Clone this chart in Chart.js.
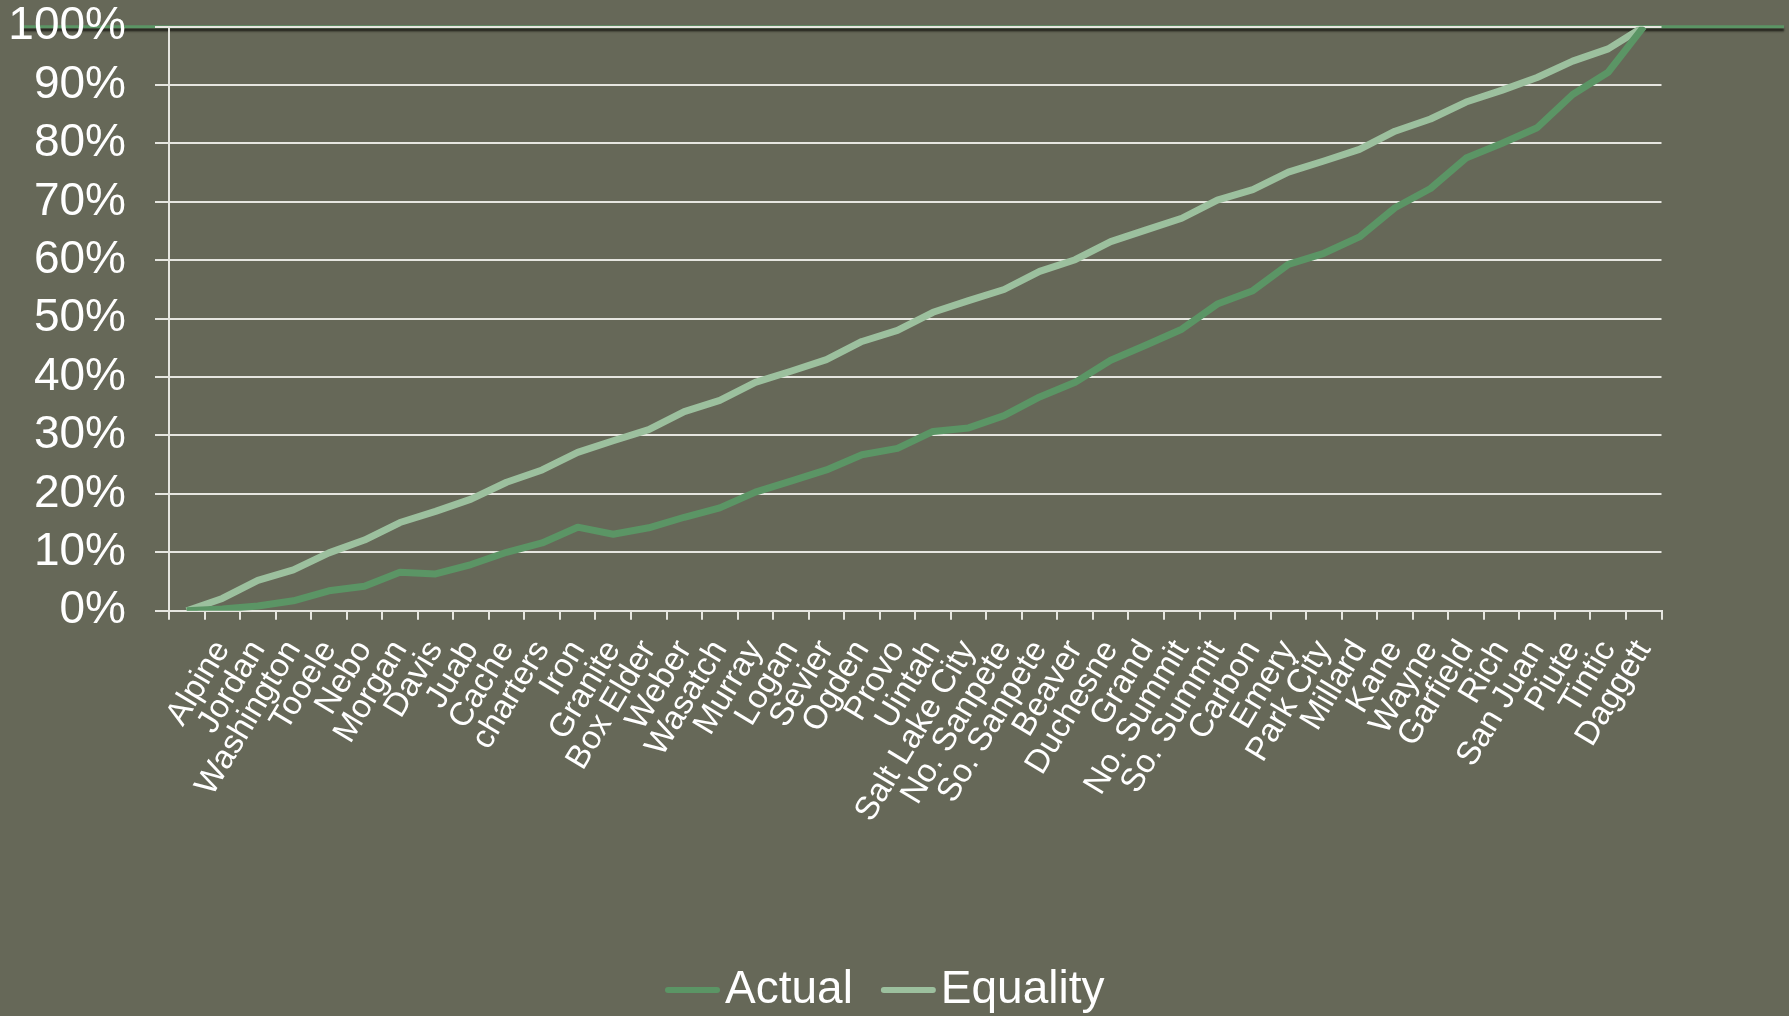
<!DOCTYPE html>
<html>
<head>
<meta charset="utf-8">
<script src="https://cdn.jsdelivr.net/npm/chart.js@4.4.1/dist/chart.umd.min.js"></script>
<style>
  html, body { margin: 0; padding: 0; background: #666858; }
  #quadro { width: 1789px; height: 1016px; }
</style>
</head>
<body>
<div id="quadro"><canvas id="grafico" width="1789" height="1016"></canvas></div>
<script>
// districts in order of cumulative share; the first slot is the origin
const distritos = ['', 'Alpine', 'Jordan', 'Washington', 'Tooele', 'Nebo', 'Morgan', 'Davis', 'Juab',
  'Cache', 'charters', 'Iron', 'Granite', 'Box Elder', 'Weber', 'Wasatch', 'Murray', 'Logan', 'Sevier',
  'Ogden', 'Provo', 'Uintah', 'Salt Lake City', 'No. Sanpete', 'So. Sanpete', 'Beaver', 'Duchesne',
  'Grand', 'No. Summit', 'So. Summit', 'Carbon', 'Emery', 'Park City', 'Millard', 'Kane', 'Wayne',
  'Garfield', 'Rich', 'San Juan', 'Piute', 'Tintic', 'Daggett'];

const actual = [0, 0.3, 0.8, 1.7, 3.4, 4.2, 6.6, 6.3, 7.9, 10.0, 11.6, 14.3, 13.1, 14.2, 16.0, 17.6,
  20.3, 22.2, 24.1, 26.7, 27.8, 30.7, 31.3, 33.4, 36.6, 39.1, 42.9, 45.5, 48.2, 52.5, 54.8, 59.3,
  61.2, 64.0, 69.0, 72.3, 77.5, 80.0, 82.7, 88.4, 92.2, 100];

const equality = [0, 2.1, 5.2, 7.0, 9.9, 12.1, 15.1, 17.0, 19.1, 22.0, 24.1, 27.1, 29.1, 31.0, 34.1,
  36.0, 39.1, 41.0, 43.0, 46.1, 48.0, 51.1, 53.1, 55.0, 58.1, 60.1, 63.2, 65.2, 67.2, 70.3, 72.1,
  75.1, 77.0, 79.0, 82.1, 84.2, 87.1, 89.1, 91.3, 94.1, 96.2, 100];

const escalaY = [0, 100, 10];

const corActual = '#5b9565';
const corEquality = '#9cc09e';
const corGrade = '#e6e6e0';

Chart.defaults.font.family = '"Liberation Sans", Arial, sans-serif';

// green rule across the whole width at the 100% level, with its drop shadow
const linhaTopo = {
  id: 'linhaTopo',
  beforeDraw(chart) {
    const ctx = chart.ctx;
    const y = chart.scales.y.getPixelForValue(100);
    ctx.save();
    ctx.shadowColor = 'rgba(25, 25, 20, 0.9)';
    ctx.shadowOffsetY = 3;
    ctx.shadowBlur = 2;
    ctx.strokeStyle = corActual;
    ctx.lineWidth = 3;
    ctx.beginPath();
    ctx.moveTo(21, y);
    ctx.lineTo(1784, y);
    ctx.stroke();
    ctx.restore();
  },
};

// legend under the axis labels: short line sample right next to the name
const legenda = {
  id: 'legenda',
  afterDraw(chart) {
    const ctx = chart.ctx;
    const y = 990;
    let x = 665;
    ctx.save();
    ctx.font = '46px "Liberation Sans", Arial, sans-serif';
    ctx.textBaseline = 'middle';
    chart.data.datasets.forEach((ds) => {
      ctx.strokeStyle = ds.borderColor;
      ctx.lineWidth = 6;
      ctx.lineCap = 'round';
      ctx.beginPath();
      ctx.moveTo(x + 3, y);
      ctx.lineTo(x + 52, y);
      ctx.stroke();
      ctx.fillStyle = '#ffffff';
      ctx.fillText(ds.label, x + 60, y);
      x += 60 + ctx.measureText(ds.label).width + 28;
    });
    ctx.restore();
  },
};

new Chart(document.querySelector('#grafico'), {
  type: 'line',
  data: {
    labels: distritos,
    datasets: [
      {
        label: 'Actual',
        data: actual,
        borderColor: corActual,
        backgroundColor: corActual,
        borderWidth: 7,
        borderJoinStyle: 'round',
        pointRadius: 0,
        tension: 0,
      },
      {
        label: 'Equality',
        data: equality,
        borderColor: corEquality,
        backgroundColor: corEquality,
        borderWidth: 7,
        borderJoinStyle: 'round',
        pointRadius: 0,
        tension: 0,
      },
    ],
  },
  options: {
    responsive: false,
    animation: false,
    layout: {
      padding: { top: 26.7, right: 127.5, left: 0, bottom: 0 },
    },
    plugins: {
      legend: { display: false },
      tooltip: { enabled: false },
    },
    scales: {
      x: {
        offset: true,
        grid: {
          offset: true,
          drawOnChartArea: false,
          color: corGrade,
          lineWidth: 2,
          tickLength: 9,
        },
        border: { display: true, color: corGrade, width: 2 },
        ticks: {
          autoSkip: false,
          minRotation: 59,
          maxRotation: 59,
          color: '#ffffff',
          font: { size: 33 },
          padding: 14,
        },
        afterFit(scale) {
          scale.height = 1016 - 610.7;
        },
      },
      y: {
        min: escalaY[0],
        max: escalaY[1],
        ticks: {
          stepSize: escalaY[2],
          callback: (valor) => `${valor}%`,
          color: '#ffffff',
          font: { size: 46, lineHeight: 1 },
          padding: 29,
        },
        grid: {
          color: corGrade,
          lineWidth: 2,
          tickLength: 14,
        },
        border: { display: true, color: corGrade, width: 2 },
        afterFit(scale) {
          scale.width = 169;
          // the label gap should not push the plot top down
          scale.paddingTop = 0;
          scale.paddingBottom = 0;
        },
      },
    },
  },
  plugins: [linhaTopo, legenda],
});
</script>
</body>
</html>
